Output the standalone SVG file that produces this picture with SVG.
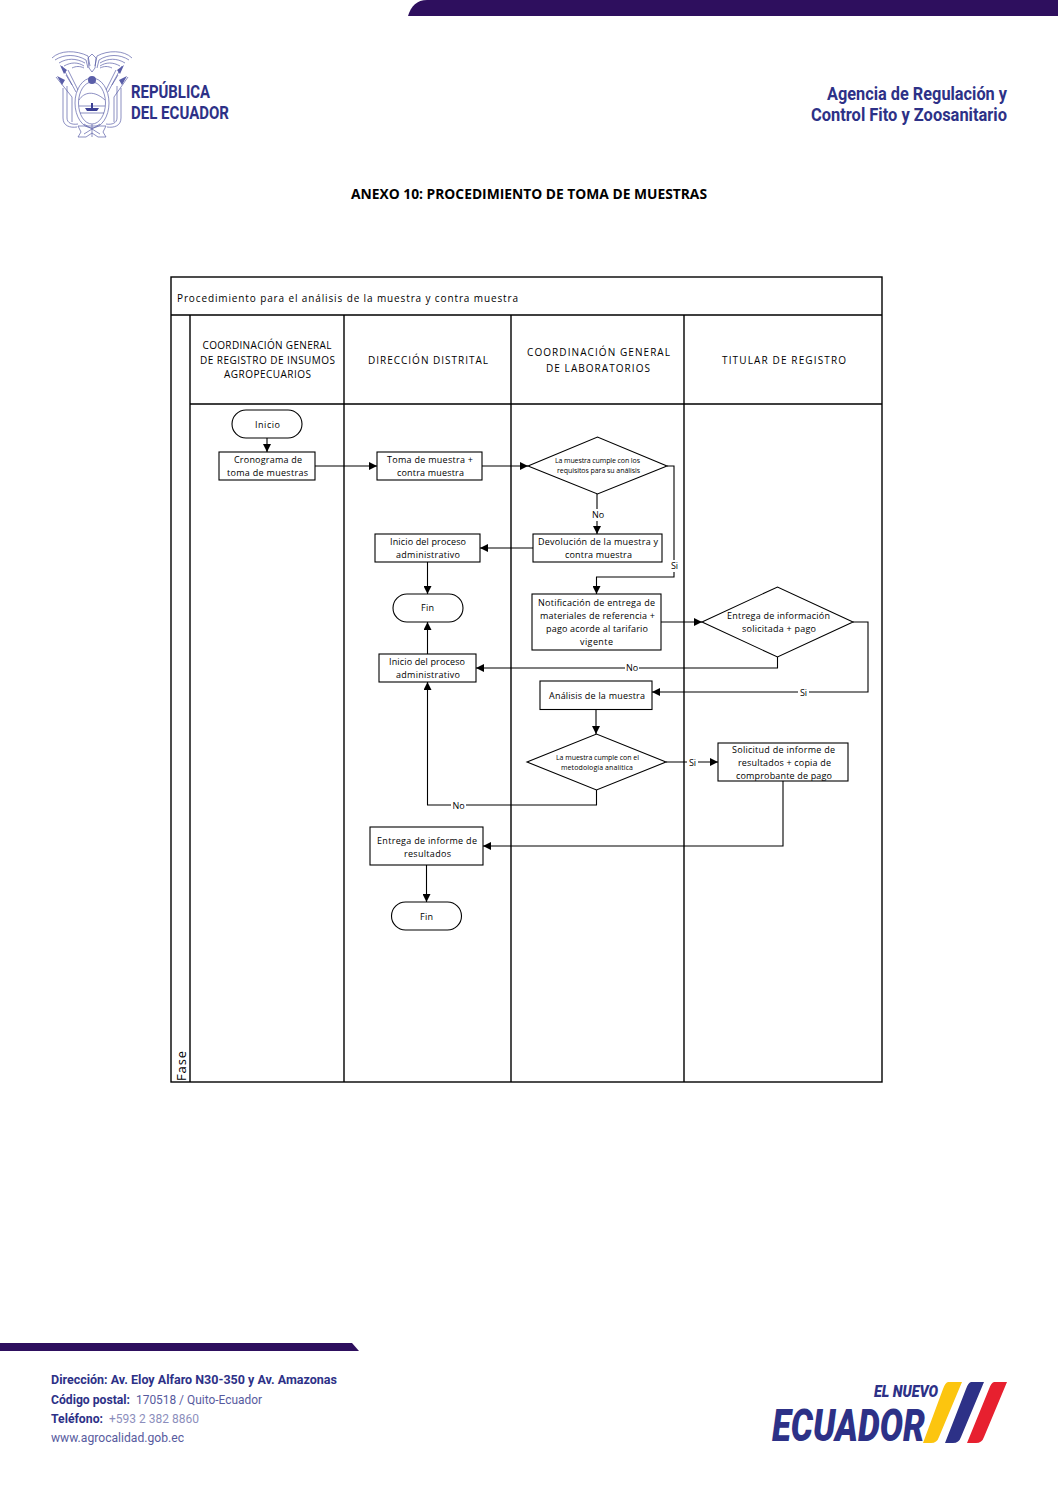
<svg xmlns="http://www.w3.org/2000/svg" width="1058" height="1498" viewBox="0 0 1058 1498">
<style>
.t{font-family:"Open Sans","Liberation Sans",sans-serif;font-size:9px;fill:#000;text-anchor:middle}
.h{font-size:10px}
.s{font-size:7px}
.n{fill:#fff;stroke:#000;stroke-width:1.1}
.f{fill:none;stroke:#000;stroke-width:1.4}
.c{fill:none;stroke:#000;stroke-width:1.1;marker-end:url(#a)}
.lb{fill:#fff}
.e{fill:none;stroke:#5a5ea8;stroke-width:.7}
.b{font-family:Roboto,"Liberation Sans",sans-serif;fill:#2d3187}
</style>
<defs>
<marker id="a" markerUnits="userSpaceOnUse" markerWidth="8" markerHeight="8" refX="8" refY="4" orient="auto"><path d="M0 0L8 4L0 8Z" fill="#000"/></marker>
</defs>
<rect width="1058" height="1498" fill="#fff"/>
<g id="page-header">
<path d="M408 16C411 6 417 0 427 0H1058V16Z" fill="#2e0f5e"/>
<g id="emblem">
<path class="e" d="M52 58C60 50 76 50 88 56L90 66M55 60C64 54 76 54 86 60L88 68M59 63C67 58 76 58 85 63M64 66C71 62 78 62 84 66M72 68C76 66 80 66 84 68M132 58C124 50 108 50 97 56L95 66M129 60C120 54 108 54 99 60L97 68M125 63C117 58 108 58 100 63M120 66C113 62 106 62 100 66M112 68C108 66 104 66 100 68"/>
<path class="e" d="M88 58L92 54L96 58L95 68L92 72L89 68Z"/>
<ellipse class="e" cx="92" cy="103" rx="17" ry="25"/>
<ellipse class="e" cx="92" cy="103" rx="13.500" ry="21"/>
<circle cx="92" cy="80" r="4" fill="#5a5ea8"/>
<path class="e" d="M79 100C84 92 94 90 105 100M79 106H105M80 113H104"/>
<path d="M85 108H99L97 111H87ZM91 103H93V108H91Z" fill="#3a3e94"/>
<path class="e" d="M56 77L72 97V122M62 66L76 92M68 70L78 90M66 75L72 85M128 77L114 97V122M122 66L108 92M116 70L106 90M118 75L112 85"/>
<path d="M57 76L65 80L62 85ZM60 65L67 70L64 74ZM127 76L119 80L122 85ZM124 65L117 70L120 74Z" fill="#5a5ea8"/>
<path class="e" d="M63 88V118C63 126 70 128 77 127M67 86V118C67 123 72 125 78 124M121 88V118C121 126 114 128 107 127M117 86V118C117 123 112 125 106 124"/>
<path class="e" d="M78 126L106 126L103 132L106 137H98L92 133L86 137H78L81 132ZM84 124L100 134M100 124L84 134M92 124V137"/>
</g>
<text class="b" x="131" y="98" font-size="18" font-weight="700" textLength="79" lengthAdjust="spacingAndGlyphs">REPÚBLICA</text>
<text class="b" x="131" y="119" font-size="18" font-weight="700" textLength="98" lengthAdjust="spacingAndGlyphs">DEL ECUADOR</text>
<text class="b" x="827" y="100" font-size="17.500" font-weight="700" textLength="180" lengthAdjust="spacingAndGlyphs">Agencia de Regulación y</text>
<text class="b" x="811" y="121" font-size="17.500" font-weight="700" textLength="196" lengthAdjust="spacingAndGlyphs">Control Fito y Zoosanitario</text>
</g>
<text id="doc-title" x="351" y="199" font-family="'Open Sans','Liberation Sans',sans-serif" font-size="14" font-weight="700" fill="#000" textLength="356" lengthAdjust="spacingAndGlyphs">ANEXO 10: PROCEDIMIENTO DE TOMA DE MUESTRAS</text>

<g id="frame">
<rect class="f" x="171" y="277" width="711" height="805"/>
<path class="f" d="M171 315H882M190 404H882M190 315V1082M344 315V1082M511 315V1082M684 315V1082"/>
<text class="t h" x="177" y="302" style="text-anchor:start" textLength="341" lengthAdjust="spacing">Procedimiento para el análisis de la muestra y contra muestra</text>
<text class="t" transform="translate(185.500 1081) rotate(-90)" style="text-anchor:start;font-size:13px" textLength="30" lengthAdjust="spacing">Fase</text>
<text class="t h" x="267" y="349" textLength="129" lengthAdjust="spacing">COORDINACIÓN GENERAL</text>
<text class="t h" x="267.500" y="364" textLength="135" lengthAdjust="spacing">DE REGISTRO DE INSUMOS</text>
<text class="t h" x="267.500" y="378" textLength="87" lengthAdjust="spacing">AGROPECUARIOS</text>
<text class="t h" x="428" y="364" textLength="120" lengthAdjust="spacing">DIRECCIÓN DISTRITAL</text>
<text class="t h" x="598.500" y="356" textLength="143" lengthAdjust="spacing">COORDINACIÓN GENERAL</text>
<text class="t h" x="598" y="372" textLength="104" lengthAdjust="spacing">DE LABORATORIOS</text>
<text class="t h" x="784" y="364" textLength="124" lengthAdjust="spacing">TITULAR DE REGISTRO</text>
</g>

<g id="connectors">
<path class="c" d="M267 438V452"/>
<path class="c" d="M315 466H377"/>
<path class="c" d="M482 466H528"/>
<path class="c" d="M597 494V534"/>
<path class="c" d="M667 466H674V577H596.500V594"/>
<path class="c" d="M533 548H480"/>
<path class="c" d="M427.500 562V594"/>
<path class="c" d="M661 622H702"/>
<path class="c" d="M777.500 657V668H476"/>
<path class="c" d="M853 622H868V692H652"/>
<path class="c" d="M427.500 654V622"/>
<path class="c" d="M596 709.500V734"/>
<path class="c" d="M666 762H718"/>
<path class="c" d="M596.500 790V805H427.500V682"/>
<path class="c" d="M783 781V846H483"/>
<path class="c" d="M426.500 865V902"/>
<rect class="lb" x="591" y="509" width="15" height="12"/><text class="t" x="598" y="518">No</text>
<rect class="lb" x="669" y="560" width="11" height="12"/><text class="t" x="674.500" y="569">Si</text>
<rect class="lb" x="625" y="662" width="14" height="12"/><text class="t" x="632" y="671">No</text>
<rect class="lb" x="798" y="686" width="11" height="12"/><text class="t" x="803.500" y="696">Si</text>
<rect class="lb" x="687" y="757" width="11" height="12"/><text class="t" x="692.500" y="766">Si</text>
<rect class="lb" x="451" y="799" width="15" height="12"/><text class="t" x="458.500" y="809">No</text>
</g>

<g id="n-inicio"><rect class="n" x="232" y="410" width="70" height="28" rx="14"/><text class="t" x="267.500" y="428" textLength="25" lengthAdjust="spacing">Inicio</text></g>
<g id="n-cronograma"><rect class="n" x="219" y="452" width="96" height="28"/><text class="t" x="268" y="463" textLength="68" lengthAdjust="spacing">Cronograma de</text><text class="t" x="267.500" y="476" textLength="81" lengthAdjust="spacing">toma de muestras</text></g>
<g id="n-toma"><rect class="n" x="377" y="452" width="105" height="28"/><text class="t" x="430" y="463" textLength="86" lengthAdjust="spacing">Toma de muestra +</text><text class="t" x="430.500" y="476" textLength="67" lengthAdjust="spacing">contra muestra</text></g>
<g id="n-d1"><path class="n" d="M528 466L597.500 437L667 466L597.500 494Z"/><text class="t s" x="597.500" y="463" textLength="85" lengthAdjust="spacing">La muestra cumple con los</text><text class="t s" x="598.500" y="473" textLength="83" lengthAdjust="spacing">requisitos para su análisis</text></g>
<g id="n-devolucion"><rect class="n" x="533" y="534" width="129" height="28"/><text class="t" x="598" y="545" textLength="120" lengthAdjust="spacing">Devolución de la muestra y</text><text class="t" x="598.500" y="558" textLength="67" lengthAdjust="spacing">contra muestra</text></g>
<g id="n-admin1"><rect class="n" x="375" y="534" width="105" height="28"/><text class="t" x="428" y="545" textLength="76" lengthAdjust="spacing">Inicio del proceso</text><text class="t" x="428" y="558" textLength="64" lengthAdjust="spacing">administrativo</text></g>
<g id="n-fin1"><rect class="n" x="393" y="594" width="70" height="28" rx="14"/><text class="t" x="427.500" y="611" textLength="13" lengthAdjust="spacing">Fin</text></g>
<g id="n-notificacion"><rect class="n" x="532" y="594" width="129" height="56"/><text class="t" x="596.500" y="606" textLength="117" lengthAdjust="spacing">Notificación de entrega de</text><text class="t" x="597.500" y="619" textLength="115" lengthAdjust="spacing">materiales de referencia +</text><text class="t" x="597" y="632" textLength="102" lengthAdjust="spacing">pago acorde al tarifario</text><text class="t" x="596.500" y="645" textLength="33" lengthAdjust="spacing">vigente</text></g>
<g id="n-d2"><path class="n" d="M702 622L777.500 587L853 622L777.500 657Z"/><text class="t" x="778.500" y="619" textLength="103" lengthAdjust="spacing">Entrega de información</text><text class="t" x="779" y="632" textLength="74" lengthAdjust="spacing">solicitada + pago</text></g>
<g id="n-admin2"><rect class="n" x="379" y="654" width="97" height="28"/><text class="t" x="427" y="665" textLength="76" lengthAdjust="spacing">Inicio del proceso</text><text class="t" x="428" y="678" textLength="64" lengthAdjust="spacing">administrativo</text></g>
<g id="n-analisis"><rect class="n" x="540" y="681" width="112" height="28.500"/><text class="t" x="597" y="699" textLength="96" lengthAdjust="spacing">Análisis de la muestra</text></g>
<g id="n-d3"><path class="n" d="M527 762L596.500 734L666 762L596.500 790Z"/><text class="t s" x="597.500" y="760" textLength="83" lengthAdjust="spacing">La muestra cumple con el</text><text class="t s" x="597" y="770" textLength="72" lengthAdjust="spacing">metodología analítica</text></g>
<g id="n-solicitud"><rect class="n" x="718" y="743" width="130" height="38"/><text class="t" x="783.500" y="753" textLength="103" lengthAdjust="spacing">Solicitud de informe de</text><text class="t" x="784.500" y="766" textLength="93" lengthAdjust="spacing">resultados + copia de</text><text class="t" x="784" y="778.500" textLength="96" lengthAdjust="spacing">comprobante de pago</text></g>
<g id="n-entrega"><rect class="n" x="370" y="827" width="113" height="38"/><text class="t" x="427" y="844" textLength="100" lengthAdjust="spacing">Entrega de informe de</text><text class="t" x="427.500" y="857" textLength="47" lengthAdjust="spacing">resultados</text></g>
<g id="n-fin2"><rect class="n" x="391.500" y="902" width="70" height="28" rx="14"/><text class="t" x="426.500" y="920" textLength="13" lengthAdjust="spacing">Fin</text></g>

<g id="page-footer">
<path d="M0 1343H352L359 1351H0Z" fill="#2e0f5e"/>
<text class="b" x="51" y="1384" font-size="13.500" font-weight="700" textLength="286" lengthAdjust="spacingAndGlyphs">Dirección: Av. Eloy Alfaro N30-350 y Av. Amazonas</text>
<text class="b" x="51" y="1404" font-size="13.500" font-weight="700" textLength="79" lengthAdjust="spacingAndGlyphs">Código postal:</text>
<text class="b" x="136" y="1404" font-size="13.500" textLength="126" lengthAdjust="spacingAndGlyphs" opacity=".8">170518 / Quito-Ecuador</text>
<text class="b" x="51" y="1423" font-size="13.500" font-weight="700" textLength="52" lengthAdjust="spacingAndGlyphs">Teléfono:</text>
<text class="b" x="109" y="1423" font-size="13.500" textLength="90" lengthAdjust="spacingAndGlyphs" opacity=".55">+593 2 382 8860</text>
<text class="b" x="51" y="1442" font-size="13.500" textLength="133" lengthAdjust="spacingAndGlyphs" opacity=".8">www.agrocalidad.gob.ec</text>
<text class="b" x="874" y="1397" font-size="16" font-weight="900" font-style="italic" textLength="64" lengthAdjust="spacingAndGlyphs">EL NUEVO</text>
<text class="b" x="772" y="1441" font-size="44" font-weight="900" font-style="italic" textLength="153" lengthAdjust="spacingAndGlyphs">ECUADOR</text>
<path d="M948 1382H962L939 1437Q937 1443 931 1443H923L943 1389Q945 1383 948 1382Z" fill="#fcc50f"/>
<path d="M971 1382H984L961 1437Q959 1443 953 1443H945L966 1389Q968 1383 971 1382Z" fill="#2d3187"/>
<path d="M994 1382H1007L984 1437Q982 1443 976 1443H967L989 1389Q991 1383 994 1382Z" fill="#e7202f"/>
</g>
</svg>
